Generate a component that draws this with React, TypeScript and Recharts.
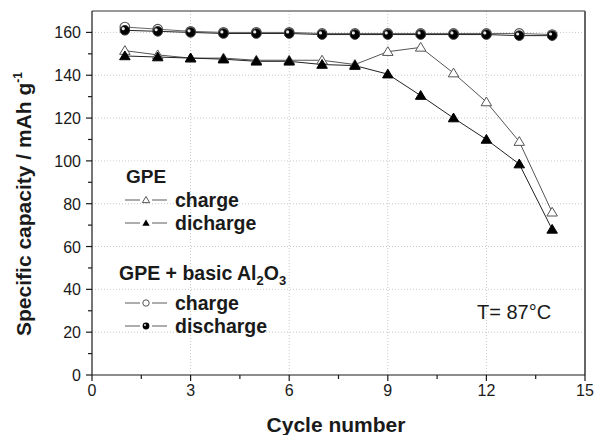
import React from "react";
import { LineChart, Line, XAxis, YAxis, ReferenceLine } from "recharts";

const cycles = [1, 2, 3, 4, 5, 6, 7, 8, 9, 10, 11, 12, 13, 14];
const gpeCharge = [151.5, 149.5, 148, 148, 147, 147, 147, 145, 151, 153, 141, 127.5, 109, 76];
const gpeDischarge = [149, 148.5, 148, 147.5, 146.5, 146.5, 145, 144.5, 140.5, 130.5, 120, 110, 98.5, 68];
const alCharge = [162.5, 161.5, 160.5, 160, 160, 160, 159.5, 159.5, 159.5, 159.5, 159.5, 159.5, 159.5, 159];
const alDischarge = [161, 160.5, 160, 159.5, 159.5, 159.5, 159, 159, 159, 159, 159, 159, 158.5, 158.5];

const xTicks = [0, 1.5, 3, 4.5, 6, 7.5, 9, 10.5, 12, 13.5, 15];
const yTicks = [0, 10, 20, 30, 40, 50, 60, 70, 80, 90, 100, 110, 120, 130, 140, 150, 160];
const xGrid = [3, 6, 9, 12];
const yGrid = [20, 40, 60, 80, 100, 120, 140, 160];

const data = cycles.map((c, i) => ({
  cycle: c,
  gpeCharge: gpeCharge[i],
  gpeDischarge: gpeDischarge[i],
  alCharge: alCharge[i],
  alDischarge: alDischarge[i],
}));

const FONT = "'Liberation Sans', Arial, sans-serif";
const INK = "#1a1a1a";

const triPath = (cx: number, cy: number, s: number) =>
  `M${cx},${cy - s} L${cx + s * 1.05},${cy + s * 0.75} L${cx - s * 1.05},${cy + s * 0.75} Z`;

const OpenTriangle = (p: any) => (
  <path key={`ot-${p.index}`} d={triPath(p.cx, p.cy, 5)} fill="#fff" stroke="#555" strokeWidth={1} />
);
const FilledTriangle = (p: any) => (
  <path key={`ft-${p.index}`} d={triPath(p.cx, p.cy, 5)} fill="#000" stroke="#000" strokeWidth={1} />
);
const OpenCircle = (p: any) => (
  <circle key={`oc-${p.index}`} cx={p.cx} cy={p.cy} r={4.8} fill="#fff" stroke="#555" strokeWidth={1.2} />
);
const Ball = (p: any) => (
  <g key={`bc-${p.index}`}>
    <circle cx={p.cx} cy={p.cy} r={4.8} fill="#000" stroke="#333" strokeWidth={1} />
    <circle cx={p.cx - 1.6} cy={p.cy - 1.6} r={1.6} fill="#e8e8e8" />
  </g>
);

const XTick = (p: any) => {
  const v = p.payload.value;
  const major = v % 3 === 0;
  return (
    <g>
      <line x1={p.x} x2={p.x} y1={p.y} y2={p.y + (major ? 6 : 4)} stroke={INK} strokeWidth={1.2} />
      {major && (
        <text x={p.x} y={p.y + 21} textAnchor="middle" fontFamily={FONT} fontSize={16} fill={INK}>
          {v}
        </text>
      )}
    </g>
  );
};

const YTick = (p: any) => {
  const v = p.payload.value;
  const major = v % 20 === 0;
  return (
    <g>
      <line x1={p.x} x2={p.x - (major ? 6 : 4)} y1={p.y} y2={p.y} stroke={INK} strokeWidth={1.2} />
      {major && (
        <text x={p.x - 11} y={p.y + 6} textAnchor="end" fontFamily={FONT} fontSize={16} fill={INK}>
          {v}
        </text>
      )}
    </g>
  );
};

const YTitle = () => (
  <text
    transform="translate(31,204) rotate(-90)"
    textAnchor="middle"
    fontFamily={FONT}
    fontSize={21}
    fontWeight="bold"
    fill={INK}
  >
    Specific capacity / mAh g
    <tspan fontSize={12} dy={-9}>-1</tspan>
  </text>
);

const XTitle = () => (
  <text x={336} y={432} textAnchor="middle" fontFamily={FONT} fontSize={21} fontWeight="bold" fill={INK}>
    Cycle number
  </text>
);

const LegendRow = ({ y, marker, label }: { y: number; marker: React.ReactNode; label: string }) => (
  <g>
    <line x1={125} x2={140} y1={y} y2={y} stroke="#777" strokeWidth={1.2} />
    <line x1={152} x2={167} y1={y} y2={y} stroke="#777" strokeWidth={1.2} />
    {marker}
    <text x={175} y={y + 7} fontFamily={FONT} fontSize={19.5} fontWeight="bold" fill={INK}>
      {label}
    </text>
  </g>
);

const Overlay = () => (
  <svg width={597} height={435} style={{ position: "absolute", left: 0, top: 0, pointerEvents: "none" }}>
    <text x={126} y={183} fontFamily={FONT} fontSize={19} fontWeight="bold" fill={INK}>GPE</text>
    <LegendRow y={200} label="charge" marker={<path d={triPath(146, 200, 3.5)} fill="#fff" stroke="#555" />} />
    <LegendRow y={223} label="dicharge" marker={<path d={triPath(146, 223, 3.5)} fill="#000" />} />
    <text x={119} y={280} fontFamily={FONT} fontSize={19.5} fontWeight="bold" fill={INK}>
      GPE + basic Al
      <tspan fontSize={13} dy={5}>2</tspan>
      <tspan dy={-5}>O</tspan>
      <tspan fontSize={13} dy={5}>3</tspan>
    </text>
    <LegendRow y={303} label="charge" marker={<circle cx={146} cy={303} r={3.2} fill="#fff" stroke="#555" />} />
    <LegendRow
      y={326}
      label="discharge"
      marker={
        <g>
          <circle cx={146} cy={326} r={3.4} fill="#000" />
          <circle cx={145} cy={325} r={1.1} fill="#ddd" />
        </g>
      }
    />
    <text x={477} y={319} fontFamily={FONT} fontSize={20} fill={INK}>T= 87°C</text>
  </svg>
);

export default function App() {
  return (
    <div style={{ position: "absolute", left: 0, top: 0, width: 597, height: 435, background: "#fff" }}>
      <LineChart width={597} height={435} data={data} margin={{ top: 11, right: 12, bottom: 0, left: 0 }}>
        {xGrid.map((x) => (
          <ReferenceLine key={`gx${x}`} x={x} stroke="#c8c8c8" strokeDasharray="1 2" />
        ))}
        {yGrid.map((y) => (
          <ReferenceLine key={`gy${y}`} y={y} stroke="#c8c8c8" strokeDasharray="1 2" />
        ))}
        <ReferenceLine y={170} stroke="#333" strokeWidth={1.2} />
        <ReferenceLine x={15} stroke="#666" strokeWidth={2} />
        <XAxis
          dataKey="cycle"
          type="number"
          domain={[0, 15]}
          ticks={xTicks}
          interval={0}
          height={60}
          tickSize={0}
          tickMargin={0}
          tickLine={false}
          tick={<XTick />}
          stroke={INK}
          strokeWidth={1.2}
          label={<XTitle />}
        />
        <YAxis
          type="number"
          domain={[0, 170]}
          ticks={yTicks}
          interval={0}
          width={92}
          tickSize={0}
          tickMargin={0}
          tickLine={false}
          tick={<YTick />}
          stroke={INK}
          strokeWidth={1.2}
          label={<YTitle />}
        />
        <Line dataKey="gpeCharge" stroke="#555" strokeWidth={1} dot={OpenTriangle} isAnimationActive={false} />
        <Line dataKey="gpeDischarge" stroke="#222" strokeWidth={1} dot={FilledTriangle} isAnimationActive={false} />
        <Line dataKey="alCharge" stroke="#666" strokeWidth={1} dot={OpenCircle} isAnimationActive={false} />
        <Line dataKey="alDischarge" stroke="#222" strokeWidth={1} dot={Ball} isAnimationActive={false} />
      </LineChart>
      <Overlay />
    </div>
  );
}
